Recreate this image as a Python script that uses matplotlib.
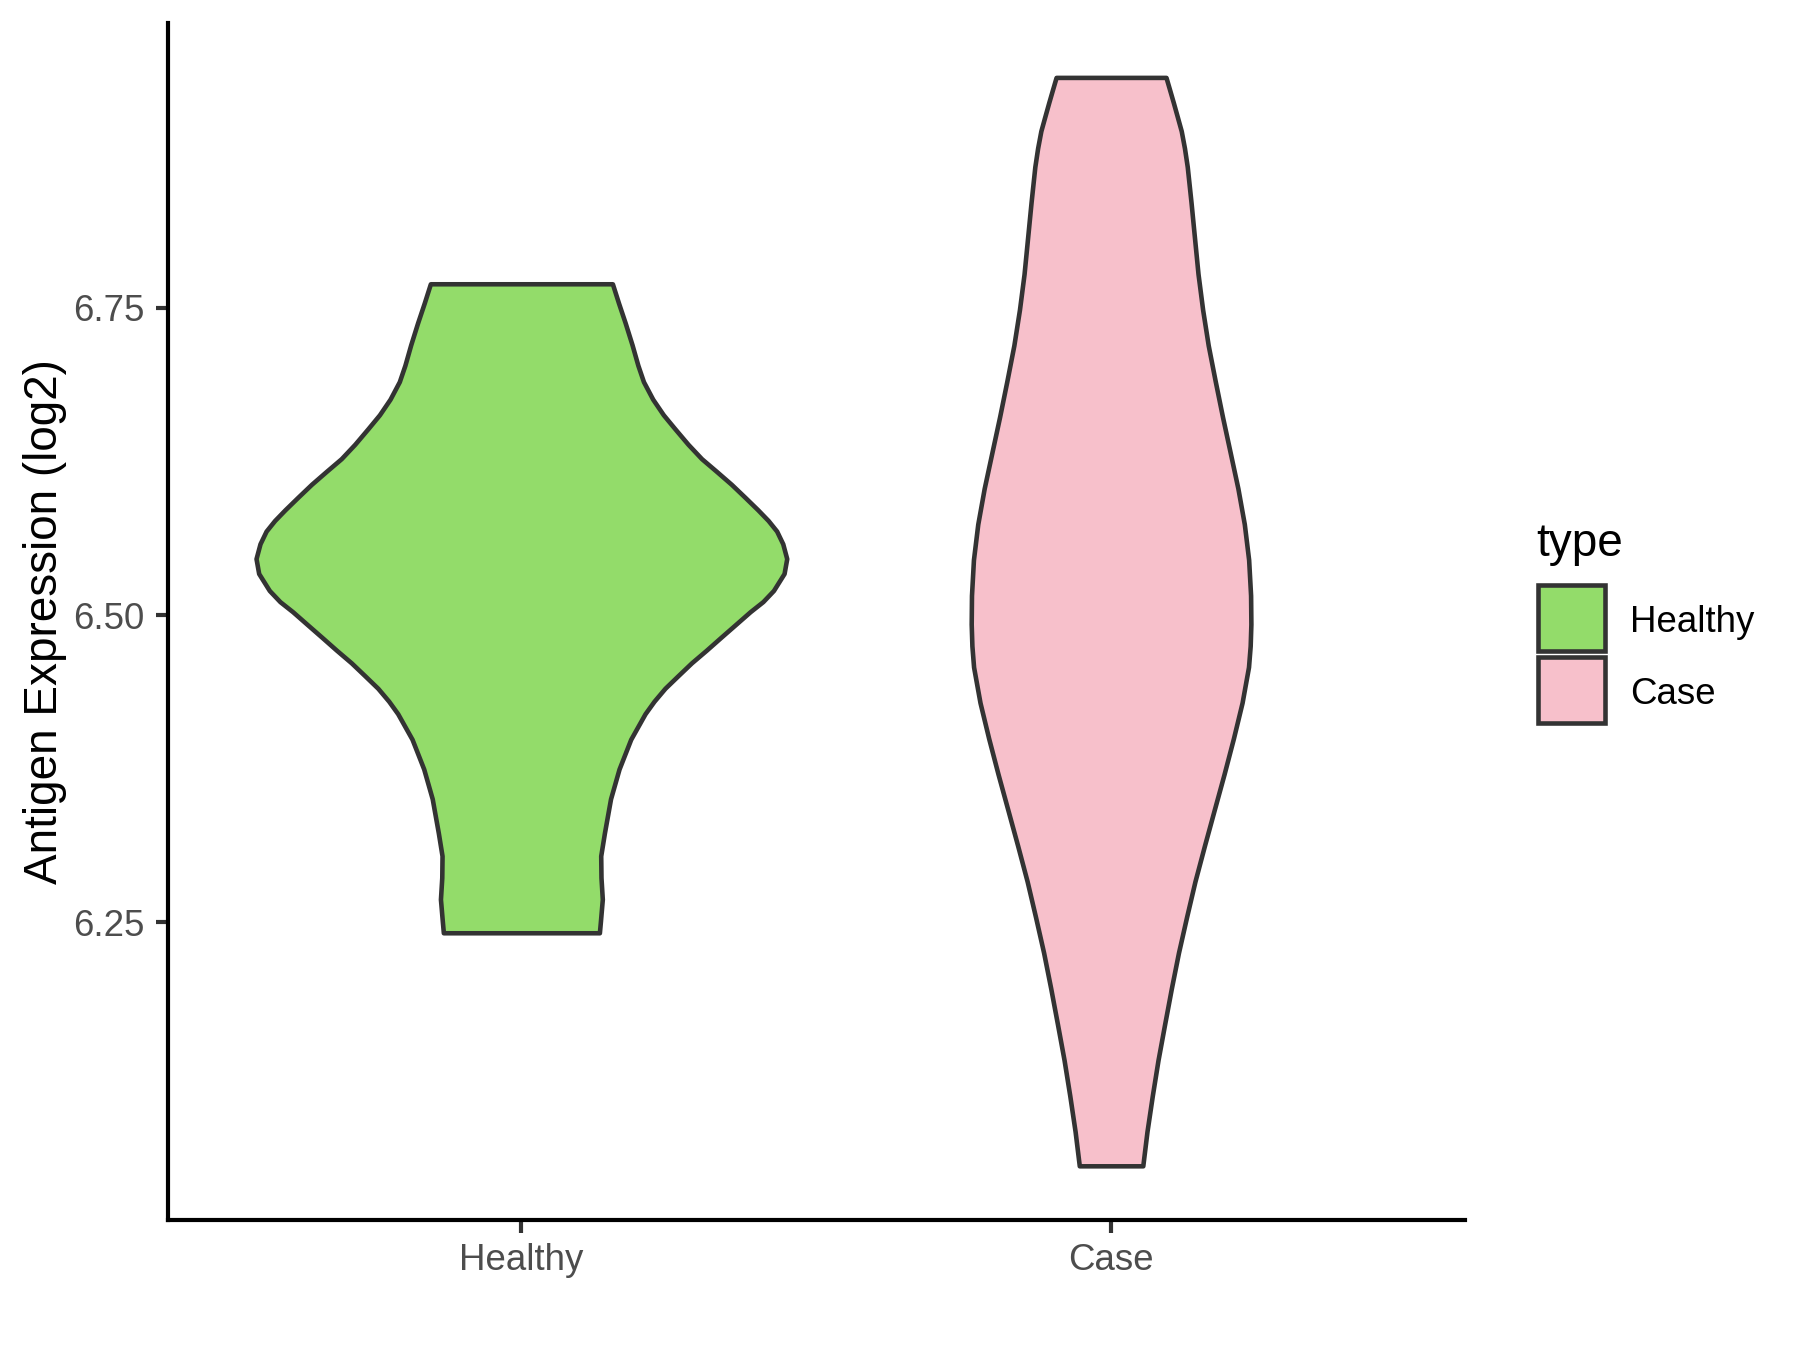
import numpy as np
import matplotlib
matplotlib.use("Agg")
import matplotlib.pyplot as plt
from matplotlib.patches import Rectangle

plt.rcParams['font.family'] = ['Liberation Sans', 'DejaVu Sans']

# groups and colours
groups = ["Healthy", "Case"]
fills = ["#93DC6A", "#F7C0CB"]

# violin outlines: y level and relative density (peak of Healthy = 1)
healthy_y = [6.7696, 6.7540, 6.7379, 6.7200, 6.7033, 6.690, 6.6757, 6.6630, 6.6515, 6.6390,
             6.6273, 6.6170, 6.6065, 6.5960, 6.5857, 6.5770, 6.5684, 6.5581, 6.546, 6.5339,
             6.5201, 6.5110, 6.5028, 6.4920, 6.482, 6.4715, 6.4612, 6.4505, 6.4405, 6.4300,
             6.4198, 6.399, 6.3748, 6.3506, 6.3229, 6.3042, 6.2865, 6.2689, 6.2512, 6.2416]
healthy_d = [0.343, 0.366, 0.391, 0.417, 0.439, 0.460, 0.495, 0.535, 0.579, 0.628,
             0.679, 0.735, 0.791, 0.842, 0.891, 0.930, 0.962, 0.985, 1.0, 0.990,
             0.950, 0.910, 0.862, 0.805, 0.752, 0.697, 0.641, 0.589, 0.541, 0.500,
             0.466, 0.412, 0.368, 0.336, 0.313, 0.299, 0.300, 0.305, 0.298, 0.294]

case_y = [6.9375, 6.9270, 6.9172, 6.9050, 6.8939, 6.8800, 6.8648, 6.8358, 6.8067, 6.7776,
          6.7485, 6.7195, 6.6904, 6.6613, 6.6323, 6.6032, 6.5741, 6.5451, 6.516, 6.4927,
          6.4750, 6.4578, 6.4288, 6.3997, 6.3706, 6.3416, 6.3125, 6.2834, 6.2544, 6.2253,
          6.1962, 6.1671, 6.1381, 6.109, 6.0799, 6.052]
case_rel = [0.393, 0.420, 0.445, 0.475, 0.502, 0.525, 0.545, 0.572, 0.597, 0.622,
            0.655, 0.695, 0.745, 0.797, 0.852, 0.907, 0.953, 0.984, 0.998, 1.0,
            0.995, 0.983, 0.937, 0.875, 0.808, 0.738, 0.668, 0.600, 0.540, 0.482,
            0.431, 0.383, 0.336, 0.295, 0.257, 0.227]
case_peak = 0.527  # peak density of Case relative to Healthy
case_d = [v * case_peak for v in case_rel]

profiles = [(healthy_y, healthy_d), (case_y, case_d)]

fig = plt.figure(figsize=(6, 4.5), dpi=300)
ax = fig.add_axes([0.0931, 0.0961, 0.8138 - 0.0931, 0.983 - 0.0961])

dmax = max(max(d) for _, d in profiles)
for i, (yy, dd) in enumerate(profiles):
    pos = i + 1
    w = np.array(dd) / dmax * 0.45
    ax.fill_betweenx(yy, pos - w, pos + w, facecolor=fills[i],
                     edgecolor="#333333", linewidth=1.1, zorder=2)

ax.set_xlim(0.4, 2.6)
ax.set_ylim(6.0077, 6.9818)
ax.set_xticks([1, 2])
ax.set_xticklabels(groups)
ax.set_yticks([6.25, 6.5, 6.75])
ax.set_yticklabels(["6.25", "6.50", "6.75"])
ax.set_ylabel("Antigen Expression (log2)", fontsize=11, color="black", labelpad=1.4)

for s in ["top", "right"]:
    ax.spines[s].set_visible(False)
for s in ["left", "bottom"]:
    ax.spines[s].set_linewidth(1.0)
    ax.spines[s].set_color("black")
ax.tick_params(axis="both", length=3, width=1.0, color="#333333",
               labelcolor="#4D4D4D", labelsize=8.8, pad=2.5)

# legend drawn by hand
fig.text(1536 / 1800, 1 - 544 / 1350, "type", fontsize=11, ha="left", va="center")
keys = [(585, 651), (657, 723)]
label_y = [623, 694]
for i, g in enumerate(groups):
    y0, y1 = keys[i]
    fig.patches.append(Rectangle((1538 / 1800, 1 - y1 / 1350), 67 / 1800, (y1 - y0) / 1350,
                                 transform=fig.transFigure, facecolor=fills[i],
                                 edgecolor="#333333", linewidth=1.1))
    fig.text(1630 / 1800, 1 - label_y[i] / 1350, g, fontsize=8.8, ha="left", va="center")

fig.savefig("out.png", dpi=300)
